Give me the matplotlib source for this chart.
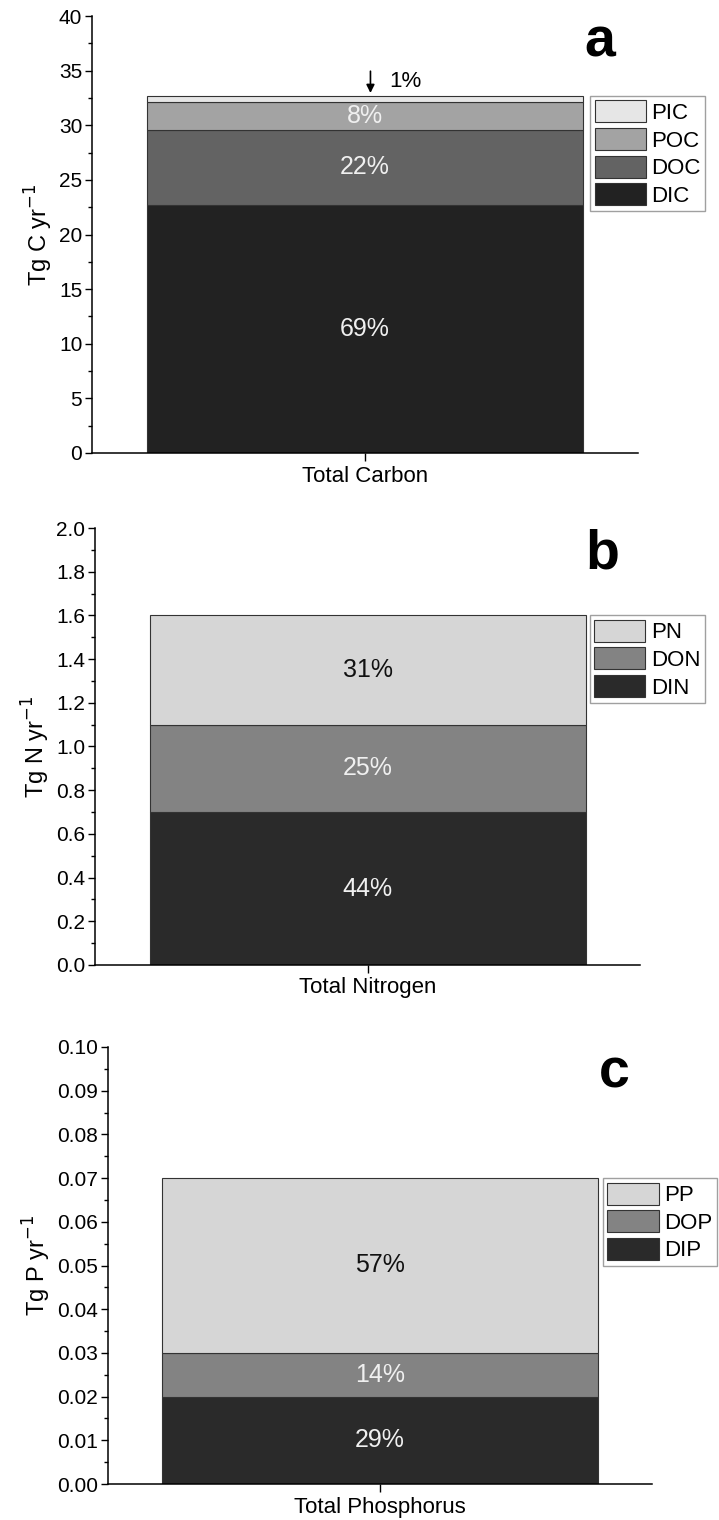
import matplotlib

matplotlib.use('Agg')
import numpy as np
import matplotlib.pyplot as plt
from matplotlib.ticker import MultipleLocator

plt.rcParams['font.family'] = ['Liberation Sans', 'DejaVu Sans']
plt.rcParams['font.size'] = 14

# panel a: carbon
c_names = ['DIC', 'DOC', 'POC', 'PIC']
c_vals = [22.7, 6.9, 2.5, 0.6]
c_pct = ['69%', '22%', '8%', '1%']
c_cols = ['#222222', '#636363', '#a3a3a3', '#e6e6e6']

# panel b: nitrogen
n_names = ['DIN', 'DON', 'PN']
n_vals = [0.7, 0.4, 0.5]
n_pct = ['44%', '25%', '31%']
n_cols = ['#2a2a2a', '#838383', '#d6d6d6']

# panel c: phosphorus
p_names = ['DIP', 'DOP', 'PP']
p_vals = [0.02, 0.01, 0.04]
p_pct = ['29%', '14%', '57%']
p_cols = ['#2a2a2a', '#838383', '#d6d6d6']

W, H = 719, 1520
fig = plt.figure(figsize=(W / 100, H / 100), dpi=100)


def px_axes(left, right, top, bottom):
    return fig.add_axes([left / W, 1 - bottom / H, (right - left) / W, (bottom - top) / H])


def draw_stack(ax, names, vals, pct, cols, txtcols, ymax, major, minor, fmt, ylabel, xlabel, letter, leg_anchor):
    bottom = 0
    handles = []
    for i, (nm, v, col) in enumerate(zip(names, vals, cols)):
        b = ax.bar(0, v, 0.8, bottom=bottom, color=col, edgecolor='#333333', linewidth=0.8, label=nm)
        handles.append(b)
        if txtcols[i] is not None:
            ax.text(0, bottom + v / 2, pct[i], ha='center', va='center', color=txtcols[i], fontsize=18)
        bottom += v
    ax.set_xlim(-0.5, 0.5)
    ax.set_ylim(0, ymax)
    ax.yaxis.set_major_locator(MultipleLocator(major))
    ax.yaxis.set_minor_locator(MultipleLocator(minor))
    ax.yaxis.set_major_formatter(plt.FormatStrFormatter(fmt))
    ax.set_xticks([0])
    ax.set_xticklabels([xlabel], fontsize=16)
    ax.tick_params(axis='y', which='major', direction='out', length=5, width=1, labelsize=15, pad=2)
    ax.tick_params(axis='y', which='minor', direction='out', length=3, width=1)
    ax.tick_params(axis='x', direction='out', length=6, width=1, pad=3)
    for s in ['top', 'right']:
        ax.spines[s].set_visible(False)
    for s in ['left', 'bottom']:
        ax.spines[s].set_linewidth(1.1)
    ax.set_ylabel(ylabel, fontsize=17, labelpad=3)
    ax.text(0.93, 0.94, letter, transform=ax.transAxes, ha='center', va='center',
            fontsize=40, fontweight='bold')
    leg = ax.legend(handles[::-1], names[::-1], loc='upper left', bbox_to_anchor=leg_anchor,
                    fontsize=16, frameon=True, fancybox=False, edgecolor='#888888',
                    handlelength=2.3, handleheight=1.15, labelspacing=0.18,
                    handletextpad=0.25, borderpad=0.2, borderaxespad=0)
    leg.get_frame().set_linewidth(1.0)
    return ax


ax1 = px_axes(92, 638, 16, 453)
draw_stack(ax1, c_names, c_vals, c_pct, c_cols, ['#f0f0f0', '#f0f0f0', '#f0f0f0', None],
           40, 5, 2.5, '%d', 'Tg C yr$^{-1}$', 'Total Carbon', 'a', (0.913, 0.817))
top_c = sum(c_vals)
ax1.annotate('', xy=(0.01, top_c), xytext=(0.01, top_c + 2.5),
             arrowprops=dict(arrowstyle='-|>', color='black', lw=1.2, mutation_scale=12))
ax1.text(0.045, top_c + 0.3, c_pct[3], ha='left', va='bottom', fontsize=16)

ax2 = px_axes(95, 640, 528, 965)
draw_stack(ax2, n_names, n_vals, n_pct, n_cols, ['#f0f0f0', '#f0f0f0', '#111111'],
           2.0, 0.2, 0.1, '%.1f', 'Tg N yr$^{-1}$', 'Total Nitrogen', 'b', (0.908, 0.8))

ax3 = px_axes(108, 652, 1047, 1484)
draw_stack(ax3, p_names, p_vals, p_pct, p_cols, ['#f0f0f0', '#f0f0f0', '#111111'],
           0.10, 0.01, 0.005, '%.2f', 'Tg P yr$^{-1}$', 'Total Phosphorus', 'c', (0.91, 0.7))

fig.savefig('out.png', dpi=100)
